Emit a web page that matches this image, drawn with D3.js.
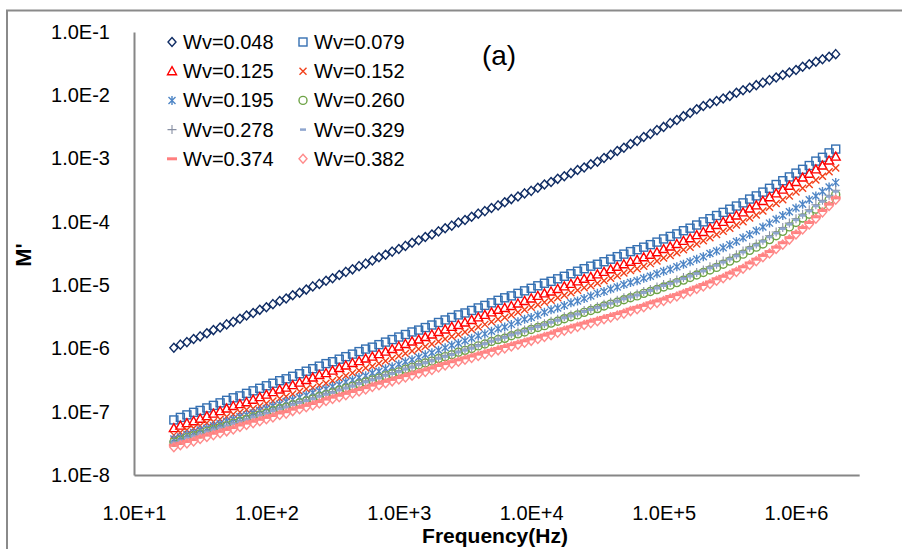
<!DOCTYPE html>
<html>
<head>
<meta charset="utf-8">
<script src="https://cdn.jsdelivr.net/npm/d3@7"></script>
<style>
  html, body { margin: 0; padding: 0; background: #fff; }
  svg { display: block; }
  text { font-family: "Liberation Sans", Arial, sans-serif; }
</style>
</head>
<body>
<svg id="chart" width="902" height="549"></svg>
<script>
// ---- DATA ----
const freqHz = [
  20,22.4,25.1,28.2,31.6,35.5,39.8,44.7,50.1,56.2,
  63.1,70.8,79.4,89.1,100,112,126,141,158,178,
  200,224,251,282,316,355,398,447,501,562,
  631,708,794,891,1000,1122,1259,1413,1585,1778,
  1995,2239,2512,2818,3162,3548,3981,4467,5012,5623,
  6310,7079,7943,8913,10000,11220,12589,14125,15849,17783,
  19953,22387,25119,28184,31623,35481,39811,44668,50119,56234,
  63096,70795,79433,89125,100000,112202,125893,141254,158489,177828,
  199526,223872,251189,281838,316228,354813,398107,446684,501187,562341,
  630957,707946,794328,891251,1000000,1122018,1258925,1412538,1584893,1778279,
  1995262
];

// log10(M') for each series
const logM_048 = [
  -5.99,-5.94,-5.90,-5.85,-5.81,-5.76,-5.71,-5.67,-5.62,-5.58,
  -5.53,-5.48,-5.44,-5.39,-5.35,-5.30,-5.25,-5.21,-5.16,-5.12,
  -5.07,-5.02,-4.98,-4.93,-4.89,-4.84,-4.79,-4.75,-4.70,-4.66,
  -4.61,-4.56,-4.52,-4.47,-4.43,-4.38,-4.33,-4.29,-4.24,-4.20,
  -4.15,-4.10,-4.06,-4.01,-3.97,-3.92,-3.87,-3.83,-3.78,-3.74,
  -3.69,-3.64,-3.60,-3.55,-3.51,-3.46,-3.41,-3.37,-3.32,-3.28,
  -3.23,-3.18,-3.14,-3.09,-3.05,-2.99,-2.94,-2.88,-2.83,-2.77,
  -2.72,-2.66,-2.61,-2.55,-2.50,-2.44,-2.39,-2.33,-2.28,-2.22,
  -2.17,-2.13,-2.09,-2.05,-2.01,-1.96,-1.92,-1.88,-1.84,-1.80,
  -1.76,-1.72,-1.68,-1.64,-1.60,-1.55,-1.51,-1.47,-1.43,-1.39,
  -1.35
];
const logM_079 = [
  -7.13,-7.09,-7.05,-7.01,-6.98,-6.94,-6.90,-6.86,-6.82,-6.78,
  -6.75,-6.71,-6.67,-6.63,-6.59,-6.55,-6.51,-6.48,-6.44,-6.40,
  -6.36,-6.32,-6.28,-6.24,-6.21,-6.17,-6.13,-6.09,-6.05,-6.01,
  -5.98,-5.94,-5.90,-5.86,-5.82,-5.78,-5.74,-5.71,-5.67,-5.63,
  -5.59,-5.55,-5.51,-5.47,-5.44,-5.40,-5.36,-5.32,-5.28,-5.24,
  -5.20,-5.17,-5.13,-5.09,-5.05,-5.01,-4.97,-4.94,-4.90,-4.86,
  -4.82,-4.78,-4.74,-4.70,-4.67,-4.63,-4.59,-4.55,-4.51,-4.47,
  -4.44,-4.40,-4.36,-4.32,-4.27,-4.23,-4.19,-4.14,-4.10,-4.05,
  -4.00,-3.95,-3.90,-3.85,-3.80,-3.75,-3.70,-3.64,-3.59,-3.53,
  -3.47,-3.41,-3.35,-3.29,-3.23,-3.17,-3.11,-3.04,-2.98,-2.91,
  -2.85
];
const logM_125 = [
  -7.26,-7.22,-7.18,-7.15,-7.11,-7.07,-7.03,-6.99,-6.95,-6.91,
  -6.88,-6.85,-6.81,-6.77,-6.73,-6.69,-6.65,-6.62,-6.58,-6.54,
  -6.50,-6.46,-6.42,-6.39,-6.35,-6.31,-6.27,-6.23,-6.20,-6.16,
  -6.13,-6.09,-6.05,-6.01,-5.97,-5.93,-5.89,-5.86,-5.82,-5.78,
  -5.74,-5.70,-5.66,-5.63,-5.59,-5.55,-5.51,-5.47,-5.43,-5.39,
  -5.36,-5.33,-5.29,-5.25,-5.21,-5.17,-5.13,-5.10,-5.06,-5.02,
  -4.98,-4.94,-4.90,-4.87,-4.83,-4.79,-4.75,-4.71,-4.67,-4.63,
  -4.60,-4.56,-4.52,-4.48,-4.43,-4.39,-4.35,-4.30,-4.26,-4.21,
  -4.16,-4.10,-4.05,-4.00,-3.95,-3.90,-3.85,-3.79,-3.74,-3.67,
  -3.61,-3.55,-3.49,-3.43,-3.37,-3.30,-3.24,-3.17,-3.11,-3.03,
  -2.97
];
const logM_152 = [
  -7.37,-7.33,-7.29,-7.26,-7.22,-7.18,-7.16,-7.12,-7.08,-7.04,
  -7.01,-6.97,-6.95,-6.91,-6.87,-6.83,-6.79,-6.76,-6.72,-6.68,
  -6.64,-6.62,-6.58,-6.55,-6.51,-6.47,-6.43,-6.39,-6.35,-6.31,
  -6.28,-6.24,-6.20,-6.16,-6.12,-6.08,-6.04,-6.01,-5.97,-5.93,
  -5.89,-5.85,-5.81,-5.78,-5.74,-5.70,-5.66,-5.62,-5.58,-5.54,
  -5.51,-5.47,-5.43,-5.39,-5.35,-5.31,-5.27,-5.24,-5.20,-5.16,
  -5.12,-5.08,-5.04,-5.01,-4.97,-4.93,-4.89,-4.85,-4.81,-4.77,
  -4.74,-4.70,-4.66,-4.62,-4.57,-4.53,-4.49,-4.44,-4.40,-4.35,
  -4.30,-4.25,-4.20,-4.15,-4.10,-4.05,-4.00,-3.94,-3.89,-3.83,
  -3.77,-3.71,-3.65,-3.59,-3.53,-3.47,-3.41,-3.34,-3.28,-3.21,
  -3.15
];
const logM_195 = [
  -7.43,-7.40,-7.36,-7.33,-7.29,-7.26,-7.22,-7.19,-7.15,-7.12,
  -7.08,-7.05,-7.02,-6.98,-6.95,-6.91,-6.88,-6.84,-6.81,-6.77,
  -6.74,-6.70,-6.67,-6.64,-6.60,-6.57,-6.53,-6.50,-6.46,-6.43,
  -6.39,-6.36,-6.32,-6.29,-6.25,-6.21,-6.18,-6.14,-6.10,-6.07,
  -6.03,-5.99,-5.95,-5.92,-5.88,-5.84,-5.80,-5.77,-5.73,-5.69,
  -5.66,-5.62,-5.58,-5.54,-5.51,-5.47,-5.43,-5.39,-5.36,-5.32,
  -5.28,-5.25,-5.21,-5.17,-5.13,-5.10,-5.06,-5.03,-4.99,-4.96,
  -4.93,-4.89,-4.86,-4.82,-4.78,-4.75,-4.71,-4.67,-4.63,-4.59,
  -4.55,-4.50,-4.46,-4.41,-4.36,-4.31,-4.25,-4.20,-4.14,-4.08,
  -4.02,-3.96,-3.90,-3.84,-3.78,-3.72,-3.65,-3.59,-3.52,-3.45,
  -3.38
];
const logM_260 = [
  -7.48,-7.45,-7.41,-7.38,-7.35,-7.31,-7.28,-7.25,-7.22,-7.18,
  -7.15,-7.12,-7.08,-7.05,-7.02,-6.98,-6.95,-6.93,-6.89,-6.86,
  -6.83,-6.80,-6.76,-6.73,-6.70,-6.66,-6.63,-6.60,-6.56,-6.53,
  -6.50,-6.47,-6.43,-6.40,-6.37,-6.33,-6.30,-6.26,-6.23,-6.20,
  -6.16,-6.13,-6.10,-6.06,-6.03,-6.00,-5.96,-5.93,-5.89,-5.86,
  -5.84,-5.80,-5.77,-5.74,-5.70,-5.67,-5.64,-5.60,-5.57,-5.53,
  -5.50,-5.47,-5.43,-5.40,-5.37,-5.33,-5.30,-5.27,-5.23,-5.20,
  -5.17,-5.13,-5.10,-5.07,-5.03,-5.00,-4.96,-4.92,-4.88,-4.84,
  -4.80,-4.76,-4.72,-4.67,-4.62,-4.57,-4.51,-4.45,-4.40,-4.35,
  -4.28,-4.22,-4.15,-4.08,-4.01,-3.94,-3.88,-3.80,-3.73,-3.65,
  -3.57
];
const logM_278 = [
  -7.47,-7.44,-7.40,-7.37,-7.34,-7.30,-7.27,-7.24,-7.21,-7.17,
  -7.14,-7.11,-7.07,-7.04,-7.01,-6.97,-6.94,-6.91,-6.87,-6.84,
  -6.81,-6.78,-6.74,-6.71,-6.68,-6.64,-6.61,-6.58,-6.54,-6.51,
  -6.48,-6.45,-6.41,-6.38,-6.35,-6.31,-6.28,-6.24,-6.21,-6.18,
  -6.14,-6.11,-6.08,-6.04,-6.01,-5.98,-5.94,-5.91,-5.87,-5.84,
  -5.81,-5.77,-5.74,-5.71,-5.67,-5.64,-5.61,-5.57,-5.54,-5.50,
  -5.47,-5.44,-5.40,-5.37,-5.34,-5.30,-5.27,-5.24,-5.20,-5.17,
  -5.14,-5.10,-5.07,-5.03,-4.99,-4.96,-4.92,-4.88,-4.84,-4.80,
  -4.76,-4.71,-4.67,-4.62,-4.57,-4.52,-4.46,-4.40,-4.35,-4.29,
  -4.22,-4.16,-4.09,-4.02,-3.95,-3.88,-3.81,-3.73,-3.66,-3.58,
  -3.50
];
const logM_329 = [
  -7.49,-7.46,-7.42,-7.39,-7.36,-7.32,-7.29,-7.26,-7.23,-7.19,
  -7.16,-7.13,-7.09,-7.06,-7.03,-6.99,-6.96,-6.93,-6.89,-6.86,
  -6.83,-6.80,-6.76,-6.73,-6.70,-6.66,-6.63,-6.60,-6.56,-6.53,
  -6.50,-6.47,-6.43,-6.40,-6.37,-6.33,-6.30,-6.26,-6.23,-6.20,
  -6.16,-6.13,-6.10,-6.06,-6.03,-6.00,-5.96,-5.93,-5.89,-5.86,
  -5.83,-5.79,-5.76,-5.73,-5.69,-5.66,-5.63,-5.59,-5.56,-5.52,
  -5.49,-5.46,-5.42,-5.39,-5.36,-5.32,-5.29,-5.26,-5.22,-5.19,
  -5.16,-5.12,-5.09,-5.05,-5.01,-4.98,-4.94,-4.90,-4.86,-4.82,
  -4.78,-4.73,-4.69,-4.64,-4.59,-4.54,-4.48,-4.42,-4.37,-4.31,
  -4.24,-4.18,-4.11,-4.04,-3.97,-3.90,-3.83,-3.75,-3.68,-3.60,
  -3.52
];
const logM_374 = [
  -7.53,-7.50,-7.47,-7.44,-7.40,-7.37,-7.34,-7.31,-7.28,-7.25,
  -7.21,-7.18,-7.15,-7.12,-7.09,-7.06,-7.02,-7.00,-6.96,-6.93,
  -6.90,-6.87,-6.84,-6.80,-6.77,-6.74,-6.71,-6.68,-6.65,-6.62,
  -6.58,-6.55,-6.52,-6.49,-6.46,-6.43,-6.40,-6.37,-6.34,-6.31,
  -6.27,-6.24,-6.21,-6.18,-6.15,-6.12,-6.09,-6.06,-6.03,-6.00,
  -5.97,-5.94,-5.91,-5.88,-5.85,-5.82,-5.79,-5.76,-5.72,-5.69,
  -5.66,-5.63,-5.60,-5.57,-5.54,-5.51,-5.48,-5.45,-5.42,-5.38,
  -5.35,-5.32,-5.28,-5.25,-5.22,-5.18,-5.15,-5.11,-5.07,-5.03,
  -4.99,-4.95,-4.90,-4.86,-4.81,-4.76,-4.71,-4.65,-4.59,-4.53,
  -4.47,-4.40,-4.33,-4.25,-4.17,-4.09,-4.01,-3.92,-3.82,-3.72,
  -3.62
];
const logM_382 = [
  -7.56,-7.53,-7.50,-7.47,-7.43,-7.40,-7.37,-7.34,-7.31,-7.28,
  -7.24,-7.21,-7.18,-7.15,-7.12,-7.09,-7.05,-7.03,-6.99,-6.96,
  -6.93,-6.90,-6.87,-6.83,-6.80,-6.77,-6.74,-6.71,-6.68,-6.65,
  -6.61,-6.58,-6.55,-6.52,-6.49,-6.46,-6.43,-6.40,-6.37,-6.34,
  -6.30,-6.27,-6.24,-6.21,-6.18,-6.15,-6.12,-6.09,-6.06,-6.03,
  -6.00,-5.97,-5.94,-5.91,-5.88,-5.85,-5.82,-5.79,-5.75,-5.72,
  -5.69,-5.66,-5.63,-5.60,-5.57,-5.54,-5.51,-5.48,-5.45,-5.41,
  -5.38,-5.35,-5.31,-5.28,-5.25,-5.21,-5.18,-5.14,-5.10,-5.06,
  -5.02,-4.98,-4.93,-4.89,-4.84,-4.79,-4.74,-4.68,-4.62,-4.56,
  -4.50,-4.43,-4.36,-4.28,-4.20,-4.12,-4.04,-3.95,-3.85,-3.75,
  -3.65
];

const seriesLabels = ["Wv=0.048","Wv=0.079","Wv=0.125","Wv=0.152","Wv=0.195",
                      "Wv=0.260","Wv=0.278","Wv=0.329","Wv=0.374","Wv=0.382"];
const seriesValues = [logM_048, logM_079, logM_125, logM_152, logM_195,
                      logM_260, logM_278, logM_329, logM_374, logM_382];
const xTickValues = [1e1, 1e2, 1e3, 1e4, 1e5, 1e6];
const xTickLabels = ["1.0E+1","1.0E+2","1.0E+3","1.0E+4","1.0E+5","1.0E+6"];
const yTickValues = [1e-8, 1e-7, 1e-6, 1e-5, 1e-4, 1e-3, 1e-2, 1e-1];
const yTickLabels = ["1.0E-8","1.0E-7","1.0E-6","1.0E-5","1.0E-4","1.0E-3","1.0E-2","1.0E-1"];

// ---- STYLE ----
const styles = [
  {shape:"diamond",  color:"#0f2c64"},
  {shape:"square",   color:"#3570b2"},
  {shape:"triangle", color:"#ff0000"},
  {shape:"x",        color:"#f2401a"},
  {shape:"asterisk", color:"#4f86c6"},
  {shape:"circle",   color:"#6ea346"},
  {shape:"plus",     color:"#878fa3"},
  {shape:"dash",     color:"#8fa6cf"},
  {shape:"bar",      color:"#ff7f7f"},
  {shape:"diamond",  color:"#ff8a8a"}
];

function drawMarker(g, shape, color) {
  const sw = 1.4;
  switch (shape) {
    case "diamond":
      g.append("path").attr("d","M0,-4.5L4,0L0,4.5L-4,0Z")
        .attr("fill","none").attr("stroke",color).attr("stroke-width",sw); break;
    case "square":
      g.append("rect").attr("x",-4).attr("y",-4).attr("width",8).attr("height",8)
        .attr("fill","none").attr("stroke",color).attr("stroke-width",sw); break;
    case "triangle":
      g.append("path").attr("d","M0,-4.5L4.5,3.5L-4.5,3.5Z")
        .attr("fill","none").attr("stroke",color).attr("stroke-width",sw); break;
    case "x":
      g.append("path").attr("d","M-3.5,-3.5L3.5,3.5M-3.5,3.5L3.5,-3.5")
        .attr("stroke",color).attr("stroke-width",sw); break;
    case "asterisk":
      g.append("path").attr("d","M-3.5,-3.5L3.5,3.5M-3.5,3.5L3.5,-3.5M0,-4.5L0,4.5")
        .attr("stroke",color).attr("stroke-width",sw); break;
    case "circle":
      g.append("circle").attr("r",4)
        .attr("fill","none").attr("stroke",color).attr("stroke-width",sw); break;
    case "plus":
      g.append("path").attr("d","M-4.5,0L4.5,0M0,-4.5L0,4.5")
        .attr("stroke",color).attr("stroke-width",1.1); break;
    case "dash":
      g.append("path").attr("d","M-3,0L3,0")
        .attr("stroke",color).attr("stroke-width",2.5); break;
    case "bar":
      g.append("path").attr("d","M-5,0L5,0")
        .attr("stroke",color).attr("stroke-width",3); break;
  }
}

// ---- CHART ----
const svg = d3.select("#chart");

// outer frame
svg.append("rect").attr("x",7).attr("y",10.5).attr("width",920).attr("height",560)
  .attr("fill","none").attr("stroke","#8a8a8a").attr("stroke-width",2);

const x = d3.scaleLog().domain([10, 3e6]).range([134, 134 + 132.4 * Math.log10(3e5)]);
const y = d3.scaleLog().domain([1e-8, 1e-1]).range([475, 32]);

// x axis
const xAxis = svg.append("g").attr("transform","translate(0,475)")
  .call(d3.axisBottom(x).tickValues(xTickValues).tickSize(0)
    .tickFormat((d,i) => xTickLabels[i]));
xAxis.select(".domain").attr("stroke","#868686").attr("stroke-width",2);
xAxis.selectAll("text").attr("y",45).attr("dy",null)
  .attr("font-size",20).attr("fill","#000")
  .attr("font-family","'Liberation Sans', Arial, sans-serif");

// y axis
const yAxis = svg.append("g").attr("transform","translate(134,0)")
  .call(d3.axisLeft(y).tickValues(yTickValues).tickSize(0).tickPadding(24)
    .tickFormat((d,i) => yTickLabels[i]));
yAxis.select(".domain").attr("stroke","#868686").attr("stroke-width",2);
yAxis.selectAll("text").attr("font-size",20).attr("fill","#000")
  .attr("font-family","'Liberation Sans', Arial, sans-serif");

// axis titles
svg.append("text").attr("x",495).attr("y",543).attr("text-anchor","middle")
  .attr("font-size",21).attr("font-weight","bold").attr("fill","#000")
  .style("font-family","'Liberation Sans Narrow', 'Arial Narrow', 'Liberation Sans', sans-serif")
  .text("Frequency(Hz)");
svg.append("text").attr("transform","translate(31,255) rotate(-90)")
  .attr("text-anchor","middle").attr("font-size",22).attr("font-weight","bold")
  .attr("fill","#000").text("M'");

// series
const plot = svg.append("g");
seriesValues.forEach((vals, si) => {
  const st = styles[si];
  const g = plot.append("g");
  vals.forEach((lv, i) => {
    const m = g.append("g")
      .attr("transform", `translate(${x(freqHz[i])},${y(Math.pow(10, lv))})`);
    drawMarker(m, st.shape, st.color);
  });
});

// legend
const legend = svg.append("g");
seriesLabels.forEach((lab, i) => {
  const col = i % 2, row = Math.floor(i / 2);
  const lx = col === 0 ? 172 : 303;
  const ly = 42 + row * 29.2;
  const m = legend.append("g").attr("transform", `translate(${lx},${ly})`);
  drawMarker(m, styles[i].shape, styles[i].color);
  legend.append("text").attr("x", lx + 11).attr("y", ly + 7)
    .attr("font-size",20).attr("fill","#000").text(lab);
});

// panel label
svg.append("text").attr("x",499).attr("y",65).attr("text-anchor","middle")
  .attr("font-size",28).attr("fill","#000").text("(a)");
</script>
</body>
</html>
